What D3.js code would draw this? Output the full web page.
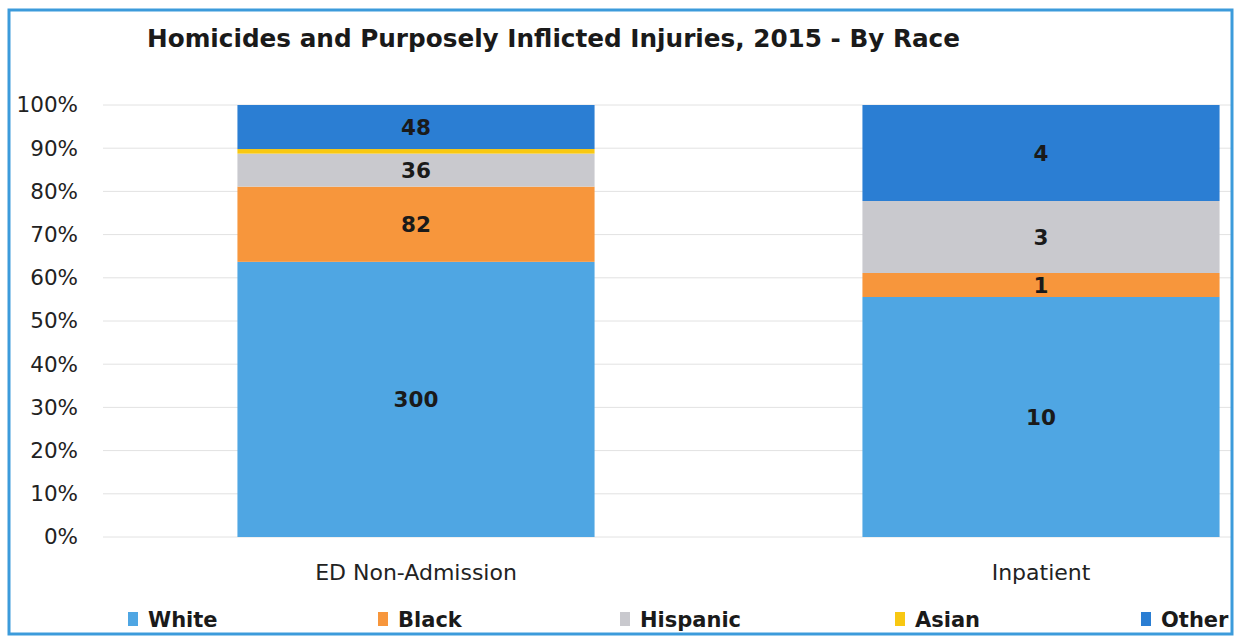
<!DOCTYPE html>
<html><head><meta charset="utf-8">
<script src="https://cdn.jsdelivr.net/npm/d3@7"></script>
<style>body{margin:0;background:#fff}svg{display:block}</style>
</head><body>
<svg id="c" width="1238" height="638"></svg>
<script>
const categories = ["ED Non-Admission", "Inpatient"];
const seriesNames = ["White", "Black", "Hispanic", "Asian", "Other"];
const white = [300, 10];
const black = [82, 1];
const hispanic = [36, 3];
const asian = [5, 0];
const other = [48, 4];
const tickLabels = ["0%","10%","20%","30%","40%","50%","60%","70%","80%","90%","100%"];
const colors = ["#4FA6E3", "#F7963C", "#C9C9CE", "#F8C812", "#2B7ED3"];

const seriesVals = [white, black, hispanic, asian, other];
const rows = categories.map((c, i) => {
  const r = {cat: c};
  seriesNames.forEach((s, j) => r[s] = seriesVals[j][i]);
  return r;
});
const stack = d3.stack().keys(seriesNames).offset(d3.stackOffsetExpand);
const layers = stack(rows);

const svg = d3.select("#c");
const font = "'DejaVu Sans', 'Open Sans', sans-serif";

const x = d3.scaleBand().domain(categories).range([103.5, 1353.5]).paddingInner(0.4286).paddingOuter(0.2143);
const y = d3.scaleLinear().domain([0, 1]).range([537, 105]);

// gridlines
svg.append("g").selectAll("line").data(d3.range(0, 11).map(d => d / 10)).join("line")
  .attr("x1", 103).attr("x2", 1232).attr("y1", d => y(d)).attr("y2", d => y(d))
  .attr("stroke", "#e2e2e2").attr("stroke-width", 1);

// bars
const g = svg.append("g");
layers.forEach((layer, j) => {
  g.append("g").attr("fill", colors[j]).selectAll("rect").data(layer).join("rect")
    .attr("x", d => x(d.data.cat)).attr("width", x.bandwidth())
    .attr("y", d => y(d[1])).attr("height", d => y(d[0]) - y(d[1]));
});
// value labels
layers.forEach((layer, j) => {
  if (seriesNames[j] === "Asian") return;
  g.append("g").selectAll("text").data(layer.filter(d => d.data[seriesNames[j]] > 0)).join("text")
    .attr("x", d => x(d.data.cat) + x.bandwidth() / 2)
    .attr("y", d => (y(d[0]) + y(d[1])) / 2)
    .attr("dy", "0.35em").attr("text-anchor", "middle")
    .attr("font-family", font).attr("font-weight", "bold").attr("font-size", 21.5)
    .attr("fill", "#1a1a1a")
    .text(d => d.data[seriesNames[j]]);
});

// y axis
const yAxis = d3.axisLeft(y).tickValues(d3.range(0, 11).map(d => d / 10))
  .tickFormat((d, i) => tickLabels[i]).tickSize(0).tickPadding(0);
const ya = svg.append("g").attr("transform", "translate(78,0)").call(yAxis);
ya.select(".domain").remove();
ya.selectAll("text").attr("font-family", font).attr("font-size", 21.5).attr("fill", "#222");

// x axis
const xAxis = d3.axisBottom(x).tickSize(0).tickPadding(0);
const xa = svg.append("g").attr("transform", "translate(0,564)").call(xAxis);
xa.select(".domain").remove();
xa.selectAll("text").attr("font-family", font).attr("font-size", 22).attr("fill", "#222").attr("dy", "0.71em");

// title
svg.append("text").attr("x", 147).attr("y", 47)
  .attr("font-family", font).attr("font-weight", "bold").attr("font-size", 24).attr("fill", "#1a1a1a")
  .attr("textLength", 813).attr("lengthAdjust", "spacingAndGlyphs")
  .text("Homicides and Purposely Inflicted Injuries, 2015 - By Race");

// legend
const legX = [128, 378, 620, 895, 1141];
const leg = svg.append("g");
seriesNames.forEach((s, j) => {
  leg.append("rect").attr("x", legX[j]).attr("y", 612).attr("width", 10).attr("height", 14).attr("fill", colors[j]);
  leg.append("text").attr("x", legX[j] + 20).attr("y", 620).attr("dy", "0.35em")
    .attr("font-family", font).attr("font-weight", "bold").attr("font-size", 21).attr("fill", "#1a1a1a").text(s);
});

// frame
svg.append("rect").attr("x", 9).attr("y", 10).attr("width", 1223).attr("height", 624)
  .attr("fill", "none").attr("stroke", "#3C9BDB").attr("stroke-width", 3);
</script>
</body></html>
